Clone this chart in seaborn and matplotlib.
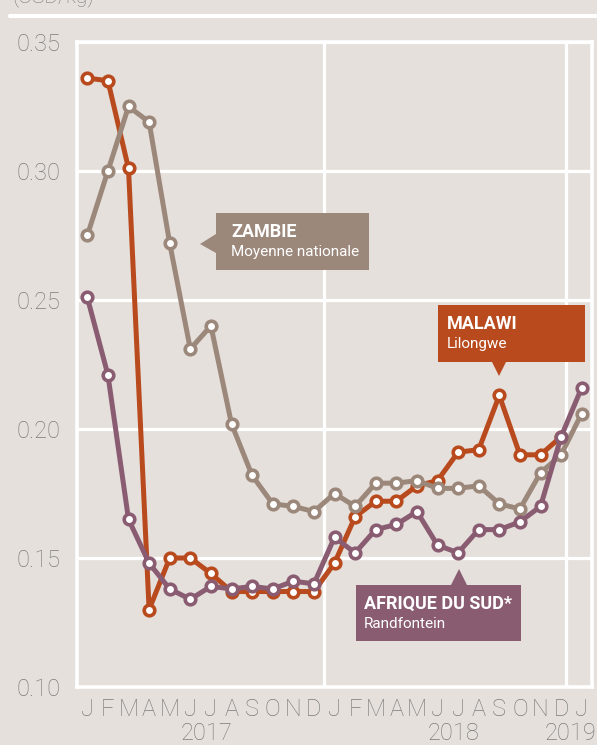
import numpy as np
import pandas as pd
import matplotlib
matplotlib.use("Agg")
import matplotlib.pyplot as plt
import seaborn as sns
from matplotlib.patches import Rectangle, Polygon
from matplotlib.lines import Line2D

# donnees (USD/kg), janv. 2017 -> janv. 2019
mois = ["J", "F", "M", "A", "M", "J", "J", "A", "S", "O", "N", "D"] * 2 + ["J"]
annees = ["2017", "2018", "2019"]
malawi = [0.336, 0.335, 0.301, 0.130, 0.150, 0.150, 0.144, 0.137, 0.137, 0.137, 0.137, 0.137,
          0.148, 0.166, 0.172, 0.172, 0.178, 0.180, 0.191, 0.192, 0.213, 0.190, 0.190, 0.197, np.nan]
zambie = [0.275, 0.300, 0.325, 0.319, 0.272, 0.231, 0.240, 0.202, 0.182, 0.171, 0.170, 0.168,
          0.175, 0.170, 0.179, 0.179, 0.180, 0.177, 0.177, 0.178, 0.171, 0.169, 0.183, 0.190, 0.206]
afrique_sud = [0.251, 0.221, 0.165, 0.148, 0.138, 0.134, 0.139, 0.138, 0.139, 0.138, 0.141, 0.140,
               0.158, 0.152, 0.161, 0.163, 0.168, 0.155, 0.152, 0.161, 0.161, 0.164, 0.170, 0.197, 0.216]

pays = ["Malawi", "Zambie", "Afrique du Sud"]
couleurs = {"Malawi": "#b84a1e", "Zambie": "#9c887b", "Afrique du Sud": "#8a5c72"}
fond = "#e5e0dc"
gris = "#7c7c7c"

df = pd.DataFrame({"mois_idx": range(len(mois)), "Malawi": malawi,
                   "Zambie": zambie, "Afrique du Sud": afrique_sud})
df = df.melt(id_vars="mois_idx", var_name="pays", value_name="prix")

sns.set_theme(style="white")
plt.rcParams['font.family'] = ['Roboto', 'DejaVu Sans']

W, H = 597, 745
def px(x):
    return x / W
def py(y):
    return 1 - y / H

fig = plt.figure(figsize=(W / 100, H / 100), dpi=100, facecolor=fond)
ax = fig.add_axes([px(77), py(687), (592 - 77) / W, (687 - 42) / H])
ax.set_facecolor(fond)

for p in pays:
    sns.lineplot(data=df[df["pays"] == p], x="mois_idx", y="prix", ax=ax,
                 color=couleurs[p], lw=3.6, marker="o", markersize=7.6,
                 markerfacecolor="white", markeredgecolor=couleurs[p],
                 markeredgewidth=2.6, legend=False, zorder=3)

ax.set_xlim(-0.5, 24.5)
ax.set_ylim(0.10, 0.35)
ax.set_yticks([0.10, 0.15, 0.20, 0.25, 0.30, 0.35])
ax.set_yticklabels(["0.10", "0.15", "0.20", "0.25", "0.30", "0.35"])
ax.set_xticks(range(len(mois)))
ax.set_xticklabels(mois)
ax.tick_params(axis="both", length=0, labelsize=17, labelcolor=gris)
for lab in ax.get_xticklabels() + ax.get_yticklabels():
    lab.set_fontweight("light")
ax.tick_params(axis="y", pad=12)
ax.tick_params(axis="x", pad=8)
ax.set_xlabel("")
ax.set_ylabel("")

ax.yaxis.grid(True, color="white", lw=2.3, zorder=1)
for xv in [11.5, 23.25]:
    ax.axvline(xv, color="white", lw=2.3, zorder=1)
for s in ax.spines.values():
    s.set_color("white")
    s.set_linewidth(2.6)

# annees sous les mois
for txt, xx in zip(annees, [207, 454, 571]):
    fig.text(px(xx), py(740), txt, ha="center", va="baseline", fontsize=17,
             fontweight="light", color=gris)

# ligne et unite en haut
fig.add_artist(Line2D([px(10), 1], [py(16), py(16)], transform=fig.transFigure,
                      color="white", lw=3))
fig.text(px(13), py(2), "(USD/kg)", ha="left", va="baseline", fontsize=15,
         fontweight="light", color=gris)

# etiquettes
def etiquette(x0, y0, x1, y1, dx, tri, coul, titre, sous):
    fig.add_artist(Rectangle((px(x0), py(y1)), (x1 - x0) / W, (y1 - y0) / H,
                             transform=fig.transFigure, color=coul, lw=0, zorder=5))
    fig.add_artist(Polygon([(px(a), py(b)) for a, b in tri], closed=True,
                           transform=fig.transFigure, color=coul, lw=0, zorder=5))
    fig.text(px(x0 + dx), py(y0 + 24), titre, fontsize=13, fontweight="bold",
             color="white", va="baseline", zorder=6)
    fig.text(px(x0 + dx), py(y0 + 43), sous, fontsize=11, color="white",
             va="baseline", zorder=6)

etiquette(216, 213, 369, 270, 15, [(216, 234), (216, 253), (200, 244)],
          couleurs["Zambie"], "ZAMBIE", "Moyenne nationale")
etiquette(438, 305, 585, 362, 9, [(492, 362), (506, 362), (499, 376)],
          couleurs["Malawi"], "MALAWI", "Lilongwe")
etiquette(356, 585, 521, 641, 8, [(451, 585), (467, 585), (459, 569)],
          couleurs["Afrique du Sud"], "AFRIQUE DU SUD*", "Randfontein")

fig.savefig("out.png", dpi=100, facecolor=fond)
